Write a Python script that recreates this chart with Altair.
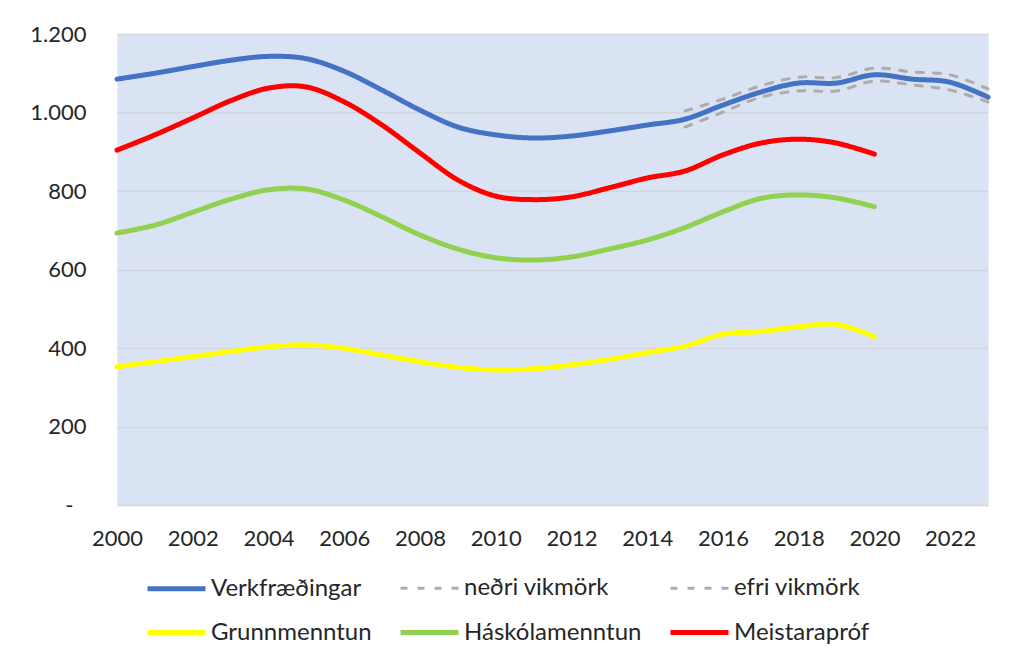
import altair as alt
import pandas as pd

# ---- data ----
years = list(range(2000, 2024))
verkfraedingar = [1085, 1100, 1117, 1133, 1143, 1137, 1105, 1057, 1006, 963, 943, 935,
                  940, 953, 968, 983, 1019, 1052, 1075, 1075, 1096, 1085, 1077, 1039]

ci_years = list(range(2015, 2024))
nedri_vikmork = [963, 1001, 1039, 1055, 1055, 1080, 1070, 1057, 1027]
efri_vikmork = [1004, 1034, 1068, 1090, 1089, 1113, 1103, 1096, 1060]

edu_years = list(range(2000, 2021))
grunnmenntun = [352, 365, 378, 391, 403, 408, 399, 382, 365, 351, 344, 347, 357, 371,
                388, 405, 435, 442, 454, 460, 429]
haskolamenntun = [693, 713, 746, 779, 803, 805, 777, 734, 688, 652, 630, 624, 632, 652,
                  675, 707, 747, 781, 790, 782, 760]
meistaraprof = [904, 943, 986, 1030, 1062, 1065, 1027, 968, 897, 828, 787, 778, 785, 808,
                833, 851, 892, 922, 932, 922, 894]

series_names = ["Verkfræðingar", "neðri vikmörk", "efri vikmörk",
                "Grunnmenntun", "Háskólamenntun", "Meistarapróf"]
series_colors = ["#4472C4", "#AFABAB", "#AFABAB", "#FFFF00", "#92D050", "#FF0000"]
series_dash = [[1, 0], [7, 10], [7, 10], [1, 0], [1, 0], [1, 0]]
series_width = [5, 3, 3, 5, 5, 5]

x_tick_values = list(range(2000, 2023, 2))
y_tick_values = [0, 200, 400, 600, 800, 1000, 1200]

# ---- long table ----
rows = []
for name, xs, vals in [
    ("Verkfræðingar", years, verkfraedingar),
    ("neðri vikmörk", ci_years, nedri_vikmork),
    ("efri vikmörk", ci_years, efri_vikmork),
    ("Grunnmenntun", edu_years, grunnmenntun),
    ("Háskólamenntun", edu_years, haskolamenntun),
    ("Meistarapróf", edu_years, meistaraprof),
]:
    for x, v in zip(xs, vals):
        rows.append({"series": name, "year": x, "value": v})
df = pd.DataFrame(rows)

FONT = "Lato"
TXT = "#262626"

legend = alt.Legend(
    title=None,
    orient="none",
    direction="horizontal",
    legendX=28,
    legendY=523,
    columns=3,
    symbolType="stroke",
    symbolSize=3364,
    labelFont=FONT,
    labelFontSize=24,
    labelColor=TXT,
    labelOffset=3,
    labelLimit=0,
    columnPadding=18,
    rowPadding=-13,
)

chart = alt.Chart(df).mark_line(interpolate="cardinal", strokeCap="round").encode(
    x=alt.X("year:Q",
            scale=alt.Scale(domain=[2000, 2023], nice=False, zero=False),
            axis=alt.Axis(values=x_tick_values, format="d", title=None, grid=False,
                          ticks=False, domain=False, labelPadding=23,
                          labelOverlap=False, labelFlush=False,
                          labelFont=FONT, labelFontSize=22, labelColor=TXT)),
    y=alt.Y("value:Q",
            scale=alt.Scale(domain=[0, 1200], nice=False),
            axis=alt.Axis(values=y_tick_values, title=None, ticks=False, domain=False,
                          labelExpr="datum.value == 0 ? '-' : replace(format(datum.value, ','), ',', '.')",
                          labelPadding={"condition": {"test": "datum.value == 0", "value": 44},
                                        "value": 31},
                          labelFont=FONT, labelFontSize=22,
                          labelOverlap=False, labelFlush=False,
                          labelColor=TXT, gridColor="#D3D6DC", gridWidth=1.3)),
    color=alt.Color("series:N", scale=alt.Scale(domain=series_names, range=series_colors),
                    legend=legend),
    strokeDash=alt.StrokeDash("series:N", scale=alt.Scale(type="ordinal", domain=series_names, range=series_dash),
                              legend=legend),
    strokeWidth=alt.StrokeWidth("series:N", scale=alt.Scale(type="ordinal", domain=series_names, range=series_width),
                                legend=legend),
).properties(
    width=871,
    height=471,
    padding={"left": 109, "top": 26, "right": 20, "bottom": 142},
    autosize=alt.AutoSizeParams(type="none"),
).configure_view(
    fill="#DAE3F3",
    stroke="transparent",
)

chart.save("out.html", embed_options={"renderer": "svg", "actions": False})
